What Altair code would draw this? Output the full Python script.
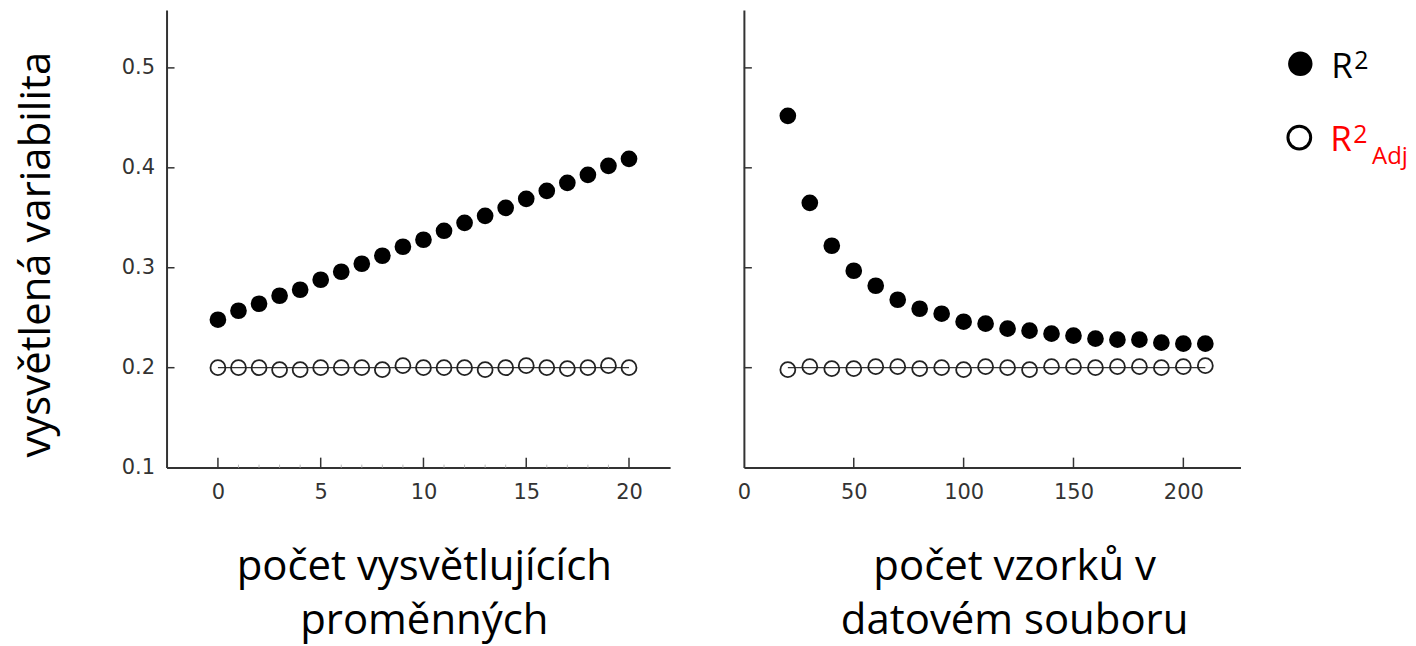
import altair as alt
import pandas as pd

# ---------------- data ----------------
left_x = list(range(0, 21))
left_r2 = [0.248, 0.257, 0.264, 0.272, 0.278, 0.288, 0.296, 0.304, 0.312, 0.321, 0.328,
           0.337, 0.345, 0.352, 0.360, 0.369, 0.377, 0.385, 0.393, 0.402, 0.409]
left_adj = [0.200, 0.200, 0.200, 0.198, 0.198, 0.200, 0.200, 0.200, 0.198, 0.202, 0.200,
            0.200, 0.200, 0.198, 0.200, 0.202, 0.200, 0.199, 0.200, 0.202, 0.200]

right_x = list(range(20, 211, 10))
right_r2 = [0.452, 0.365, 0.322, 0.297, 0.282, 0.268, 0.259, 0.254, 0.246, 0.244,
            0.239, 0.237, 0.234, 0.232, 0.229, 0.228, 0.228, 0.225, 0.224, 0.224]
right_adj = [0.198, 0.201, 0.199, 0.199, 0.201, 0.201, 0.199, 0.200, 0.198, 0.201,
             0.200, 0.198, 0.201, 0.201, 0.200, 0.201, 0.201, 0.200, 0.201, 0.202]

adj_level = 0.2
y_tick_values = [0.1, 0.2, 0.3, 0.4, 0.5]
y_inner_ticks = [0.2, 0.3, 0.4, 0.5]
left_x_ticks = [0, 5, 10, 15, 20]
left_minor_ticks = [1, 2, 3, 4, 6, 7, 8, 9, 11, 12, 13, 14, 16, 17, 18, 19]
right_x_labels = [0, 50, 100, 150, 200]
right_x_ticks = [50, 100, 150, 200]

y_title = "vysvětlená variabilita"
left_x_title = ["počet vysvětlujících", "proměnných"]
right_x_title = ["počet vzorků v", "datovém souboru"]
legend_r = "R"
legend_sup = "2"
legend_sub = "Adj"

# ---------------- layout ----------------
W1, W2, H = 505, 498, 459
Y_DOMAIN = [0.1, 0.558]
X1_DOMAIN = [-2.5, 22]
X2_DOMAIN = [0, 226]

TICK_FONT = "DejaVu Sans"
TITLE_FONT = "Open Sans"
AX_COLOR = "#333333"
TITLE_SIZE = 42

yscale = alt.Scale(domain=Y_DOMAIN, nice=False, zero=False)
x1scale = alt.Scale(domain=X1_DOMAIN, nice=False, zero=False)
x2scale = alt.Scale(domain=X2_DOMAIN, nice=False, zero=False)

common_axis = dict(ticks=False, grid=False, domain=True, domainColor=AX_COLOR,
                   domainWidth=2, labelFont=TICK_FONT, labelFontSize=21,
                   labelColor="#333333", labelFlush=False, labelOverlap=False,
                   titleFont=TITLE_FONT, titleFontSize=TITLE_SIZE, titleFontWeight="normal",
                   titleColor="black")

y_axis_left = alt.Axis(values=y_tick_values, format=".1f", labelPadding=12,
                       title=y_title, titleAngle=270, titleX=-117, titleY=245,
                       titleBaseline="alphabetic", titleAlign="center",
                       **common_axis)
y_axis_right = alt.Axis(values=y_tick_values, labels=False, title=None, **common_axis)

x_axis_left = alt.Axis(values=left_x_ticks, labelPadding=14, title=left_x_title,
                       titleLineHeight=54, titleX=258, titleY=112,
                       titleBaseline="alphabetic", titleAlign="center",
                       **common_axis)
x_axis_right = alt.Axis(values=right_x_labels, labelPadding=14, title=right_x_title,
                        titleLineHeight=54, titleX=271, titleY=112,
                        titleBaseline="alphabetic", titleAlign="center",
                        **common_axis)


def panel(xs, r2, adj, xscale, x_axis, y_axis, major_ticks, minor_ticks, width, legend=False):
    df = pd.DataFrame({"x": xs, "r2": r2, "adj": adj})
    X = lambda f: alt.X(f, type="quantitative", scale=xscale, axis=x_axis)
    Y = lambda f: alt.Y(f, type="quantitative", scale=yscale, axis=y_axis)

    rule_df = pd.DataFrame({"x0": [min(xs)], "x1": [max(xs)], "y": [adj_level]})
    base_rule = alt.Chart(rule_df).mark_rule(color="#333333", strokeWidth=1.2).encode(
        x=X("x0"), x2=alt.X2("x1"), y=Y("y"))

    adj_pts = alt.Chart(df).mark_point(shape="circle", filled=False, color="#222222",
                                        strokeWidth=1.8, size=225, opacity=1).encode(
        x=X("x"), y=Y("adj"))
    r2_pts = alt.Chart(df).mark_point(shape="circle", filled=True, color="black",
                                       size=280, opacity=1).encode(
        x=X("x"), y=Y("r2"))

    yt = alt.Chart(pd.DataFrame({"v": y_inner_ticks})).mark_rule(
        color=AX_COLOR, strokeWidth=1.5).encode(
        y=Y("v"), x=alt.value(0), x2=alt.value(8))
    xt = alt.Chart(pd.DataFrame({"v": major_ticks})).mark_rule(
        color=AX_COLOR, strokeWidth=1.5).encode(
        x=X("v"), y=alt.value(H), y2=alt.value(H - 10))
    layers = [base_rule, adj_pts, r2_pts, yt, xt]
    if minor_ticks:
        mt = alt.Chart(pd.DataFrame({"v": minor_ticks})).mark_rule(
            color="#bbbbbb", strokeWidth=1).encode(
            x=X("v"), y=alt.value(H), y2=alt.value(H - 3))
        layers.append(mt)
    if legend:
        one = pd.DataFrame({"a": [0]})
        layers += [
            alt.Chart(one).mark_point(shape="circle", filled=True, color="black",
                                      size=600, opacity=1).encode(
                x=alt.value(558), y=alt.value(54)),
            alt.Chart(one).mark_point(shape="circle", filled=False, color="black",
                                      strokeWidth=3, size=520, opacity=1).encode(
                x=alt.value(557), y=alt.value(128)),
            alt.Chart(pd.DataFrame({"t": [legend_r]})).mark_text(
                font=TITLE_FONT, fontSize=35, align="left", baseline="alphabetic",
                color="black").encode(x=alt.value(589), y=alt.value(68), text="t:N"),
            alt.Chart(pd.DataFrame({"t": [legend_sup]})).mark_text(
                font=TITLE_FONT, fontSize=25, align="left", baseline="alphabetic",
                color="black").encode(x=alt.value(612), y=alt.value(59), text="t:N"),
            alt.Chart(pd.DataFrame({"t": [legend_r]})).mark_text(
                font=TITLE_FONT, fontSize=35, align="left", baseline="alphabetic",
                color="#ff0000").encode(x=alt.value(588), y=alt.value(141), text="t:N"),
            alt.Chart(pd.DataFrame({"t": [legend_sup]})).mark_text(
                font=TITLE_FONT, fontSize=25, align="left", baseline="alphabetic",
                color="#ff0000").encode(x=alt.value(611), y=alt.value(133), text="t:N"),
            alt.Chart(pd.DataFrame({"t": [legend_sub]})).mark_text(
                font=TITLE_FONT, fontSize=24, align="left", baseline="alphabetic",
                color="#ff0000").encode(x=alt.value(630), y=alt.value(155), text="t:N"),
        ]
    return alt.layer(*layers).properties(width=width, height=H)


left = panel(left_x, left_r2, left_adj, x1scale, x_axis_left, y_axis_left,
             left_x_ticks, left_minor_ticks, W1)
right = panel(right_x, right_r2, right_adj, x2scale, x_axis_right, y_axis_right,
              right_x_ticks, None, W2, legend=True)

chart = alt.hconcat(left, right, spacing=67).properties(
    padding={"left": 7, "top": 1, "right": 0, "bottom": 20}
).configure_view(stroke=None)

chart.save("out.html", embed_options={"renderer": "svg", "actions": False})
